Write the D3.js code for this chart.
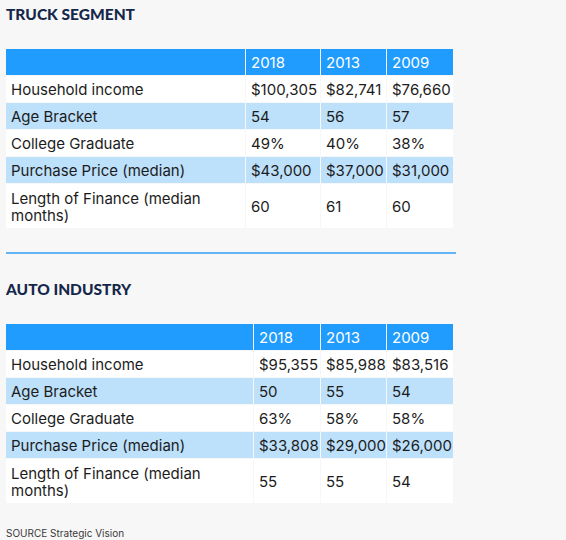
<!DOCTYPE html>
<html>
<head>
<meta charset="utf-8">
<script src="https://cdn.jsdelivr.net/npm/d3@7"></script>
<style>
  html, body { margin: 0; padding: 0; background: #f7f7f7; }
  svg { display: block; }
</style>
</head>
<body>
<div id="chart"></div>
<script>
// ---- data ----
const years = ["2018", "2013", "2009"];
const rowLabels = ["Household income", "Age Bracket", "College Graduate", "Purchase Price (median)", "Length of Finance (median months)"];
const truckIncome = ["$100,305", "$82,741", "$76,660"];
const truckAge = ["54", "56", "57"];
const truckCollege = ["49%", "40%", "38%"];
const truckPrice = ["$43,000", "$37,000", "$31,000"];
const truckFinance = ["60", "61", "60"];
const autoIncome = ["$95,355", "$85,988", "$83,516"];
const autoAge = ["50", "55", "54"];
const autoCollege = ["63%", "58%", "58%"];
const autoPrice = ["$33,808", "$29,000", "$26,000"];
const autoFinance = ["55", "55", "54"];
const sourceText = "SOURCE Strategic Vision";

const W = 566, H = 540;
const svg = d3.select("#chart").append("svg").attr("width", W).attr("height", H);
svg.append("rect").attr("width", W).attr("height", H).attr("fill", "#f7f7f7");

const FONT = "Inter, 'Noto Sans', sans-serif";
const headerBlue = "#1f9cfd";
const rowBlue = "#bde0fb";

function drawTable(cfg) {
  const g = svg.append("g");
  g.append("text").attr("x", 6).attr("y", cfg.titleY)
    .attr("font-family", "Lato, sans-serif").attr("font-weight", 900)
    .attr("font-size", 15.5).attr("fill", "#15284b").text(cfg.title);

  const cols = ["label"].concat(years);
  const colX = d3.scaleOrdinal().domain(cols).range(cfg.colEdges.slice(0, 4));
  const colW = d3.scaleOrdinal().domain(cols).range(cfg.colEdges.slice(1).map((e, i) => e - cfg.colEdges[i]));

  const rowKeys = ["header"].concat(rowLabels);
  const heights = [27, 27, 27, 27, 27, 45];
  const tops = [];
  let acc = cfg.top;
  heights.forEach(h => { tops.push(acc); acc += h; });
  const rowY = d3.scaleOrdinal().domain(rowKeys).range(tops);
  const rowH = d3.scaleOrdinal().domain(rowKeys).range(heights);

  const data = [{ key: "header", vals: years }].concat(
    rowLabels.map((lab, i) => ({ key: lab, vals: cfg.values[i] })));

  const rows = g.selectAll("g.row").data(data).join("g").attr("class", "row");

  rows.each(function(d, i) {
    const r = d3.select(this);
    const fill = i === 0 ? headerBlue : (i % 2 === 0 ? rowBlue : "#ffffff");
    const textFill = i === 0 ? "#ffffff" : "#1c1c1c";
    const cells = cols.map((c, j) => ({ col: c, text: j === 0 ? (i === 0 ? "" : d.key) : d.vals[j - 1] }));
    const y0 = rowY(d.key), h = rowH(d.key);
    r.selectAll("rect").data(cells).join("rect")
      .attr("x", c => colX(c.col))
      .attr("y", y0)
      .attr("width", c => colW(c.col) - 1)
      .attr("height", h - 1)
      .attr("fill", fill);
    const cy = y0 + (h - 1) / 2;
    cells.forEach(c => {
      if (!c.text) return;
      const lines = (c.col === "label" && c.text.startsWith("Length of Finance"))
        ? ["Length of Finance (median", "months)"] : [c.text];
      const baseY = lines.length === 2 ? [cy - 2.5, cy + 15] : [cy + 5.5];
      lines.forEach((ln, k) => {
        r.append("text")
          .attr("x", colX(c.col) + 5)
          .attr("y", baseY[k])
          .attr("font-family", FONT).attr("font-size", 15)
          .attr("fill", textFill)
          .text(ln);
      });
    });
  });
}

drawTable({
  title: "TRUCK SEGMENT", titleY: 20, top: 49,
  colEdges: [6, 246, 321, 387, 454],
  values: [truckIncome, truckAge, truckCollege, truckPrice, truckFinance]
});

svg.append("line").attr("x1", 6).attr("x2", 456).attr("y1", 253).attr("y2", 253)
  .attr("stroke", "#62b4f6").attr("stroke-width", 2);

drawTable({
  title: "AUTO INDUSTRY", titleY: 295, top: 324,
  colEdges: [6, 254, 321, 387, 454],
  values: [autoIncome, autoAge, autoCollege, autoPrice, autoFinance]
});

svg.append("text").attr("x", 6).attr("y", 537)
  .attr("font-family", FONT).attr("font-size", 10).attr("fill", "#3a3a3a")
  .text(sourceText);
</script>
</body>
</html>
